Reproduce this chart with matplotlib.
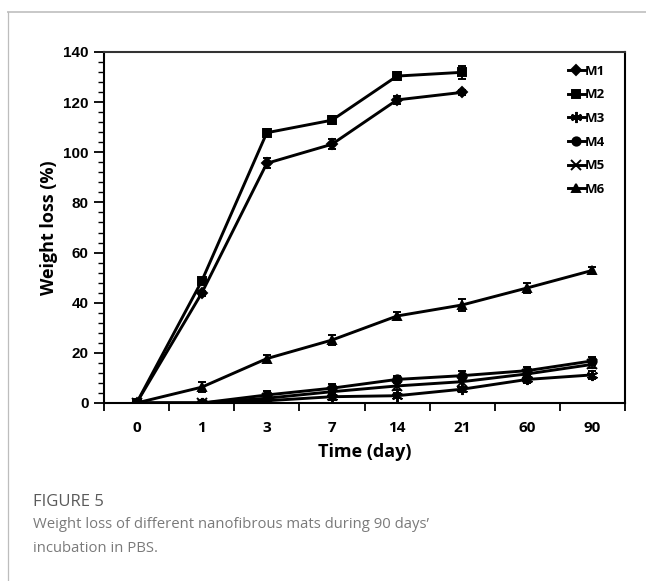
import matplotlib
matplotlib.use("Agg")
import matplotlib.pyplot as plt
from matplotlib.lines import Line2D
import numpy as np

# Sampling days (categorical, evenly spaced)
days = ["0", "1", "3", "7", "14", "21", "60", "90"]

# Weight loss (%) per mat and standard deviations
m1 = [0, 43.8, 95.6, 103.2, 120.9, 123.9]
m1_err = [0, 1.0, 2.0, 2.0, 1.5, 1.0]
m2 = [0, 48.6, 107.8, 112.8, 130.4, 131.9]
m2_err = [0, 1.0, 1.5, 1.5, 1.5, 2.5]
m3 = [0, 0, 0.9, 2.5, 2.9, 5.5, 9.4, 11.2]
m3_err = [0, 0.5, 1.0, 1.5, 1.0, 1.0, 1.5, 1.5]
m4 = [0, 0, 3.2, 5.9, 9.4, 10.9, 12.9, 16.8]
m4_err = [0, 0.5, 1.5, 1.5, 1.5, 2.0, 1.5, 1.5]
m5 = [0, 0, 1.9, 4.5, 6.8, 8.5, 11.6, 15.4]
m5_err = [0, 0.5, 1.5, 1.5, 1.5, 2.5, 1.5, 1.5]
m6 = [0, 6.3, 17.7, 25.1, 34.7, 39.1, 45.9, 52.9]
m6_err = [0, 2.0, 1.5, 2.0, 1.5, 2.5, 2.0, 1.5]

series = [
    ("M1", m1, m1_err, "D", 5),
    ("M2", m2, m2_err, "s", 6),
    ("M3", m3, m3_err, (6, 2, 0), 8),
    ("M4", m4, m4_err, "o", 6),
    ("M5", m5, m5_err, "x", 7),
    ("M6", m6, m6_err, "^", 6),
]

fig = plt.figure(figsize=(6.46, 5.81), dpi=100)
ax = fig.add_axes([0.161, 0.3064, 0.8065, 0.6041])

handles = []
for name, vals, errs, mk, ms in series:
    x = np.arange(len(vals))
    ax.errorbar(x, vals, yerr=errs, color="black", lw=2.1, marker=mk,
                ms=ms, mew=1.4, elinewidth=1.3, capsize=3, capthick=1.3,
                zorder=3)
    handles.append(Line2D([], [], color="black", lw=2.1, marker=mk,
                          ms=ms, mew=1.4, label=name))

ax.set_xlim(-0.5, len(days) - 0.5)
ax.set_ylim(0, 140)

# category boundaries carry the tick marks, centres carry the labels
ax.set_xticks(np.arange(-0.5, len(days), 1.0))
ax.set_xticklabels([])
ax.set_xticks(np.arange(len(days)), minor=True)
ax.set_xticklabels(days, minor=True, fontsize=11, fontweight="bold",
                   family="Open Sans")
ax.tick_params(axis="x", which="major", direction="out", length=6,
               width=1.3, color="black")
ax.tick_params(axis="x", which="minor", length=0, pad=13)

ax.set_yticks(np.arange(0, 141, 20))
ax.set_yticks(np.arange(0, 141, 4), minor=True)
ax.tick_params(axis="y", which="major", direction="out", length=7,
               width=1.3, pad=4)
ax.tick_params(axis="y", which="minor", direction="out", length=4,
               width=1.0)
for lab in ax.get_yticklabels():
    lab.set_fontsize(11)
    lab.set_fontweight("bold")
    lab.set_family("Liberation Sans")

for sp in ax.spines.values():
    sp.set_linewidth(1.5)
    sp.set_color("black")
ax.spines["top"].set_color("#333333")

ax.set_xlabel("Time (day)", fontsize=13, fontweight="bold",
              family="Open Sans", labelpad=6)
ax.set_ylabel("Weight loss (%)", fontsize=13, fontweight="bold",
              family="Open Sans", labelpad=4)

leg = ax.legend(handles=handles, loc="upper right",
                bbox_to_anchor=(0.985, 0.997), frameon=False,
                handlelength=1.3, handletextpad=0.0, labelspacing=0.8,
                prop={"family": "Open Sans", "weight": "bold", "size": 9.5})

# panel border
fig.add_artist(Line2D([7.5 / 646, 1.0], [1 - 11.5 / 581] * 2,
                      transform=fig.transFigure, color="#c8c8c8", lw=1.4))
fig.add_artist(Line2D([7.5 / 646] * 2, [0.0, 1 - 11.5 / 581],
                      transform=fig.transFigure, color="#bdbdbd", lw=0.9))

# caption
fig.text(33 / 646, 1 - 502 / 581, "FIGURE 5", fontsize=12,
         color="#5a5a5a", family="Open Sans", va="center", ha="left")
fig.text(33 / 646, 1 - 525 / 581,
         "Weight loss of different nanofibrous mats during 90 days\u2019",
         fontsize=10.7, color="#7a7a7a", family="Open Sans",
         va="center", ha="left")
fig.text(33 / 646, 1 - 548 / 581, "incubation in PBS.", fontsize=10.7,
         color="#7a7a7a", family="Open Sans", va="center", ha="left")

fig.savefig("out.png", dpi=100, facecolor="white")
